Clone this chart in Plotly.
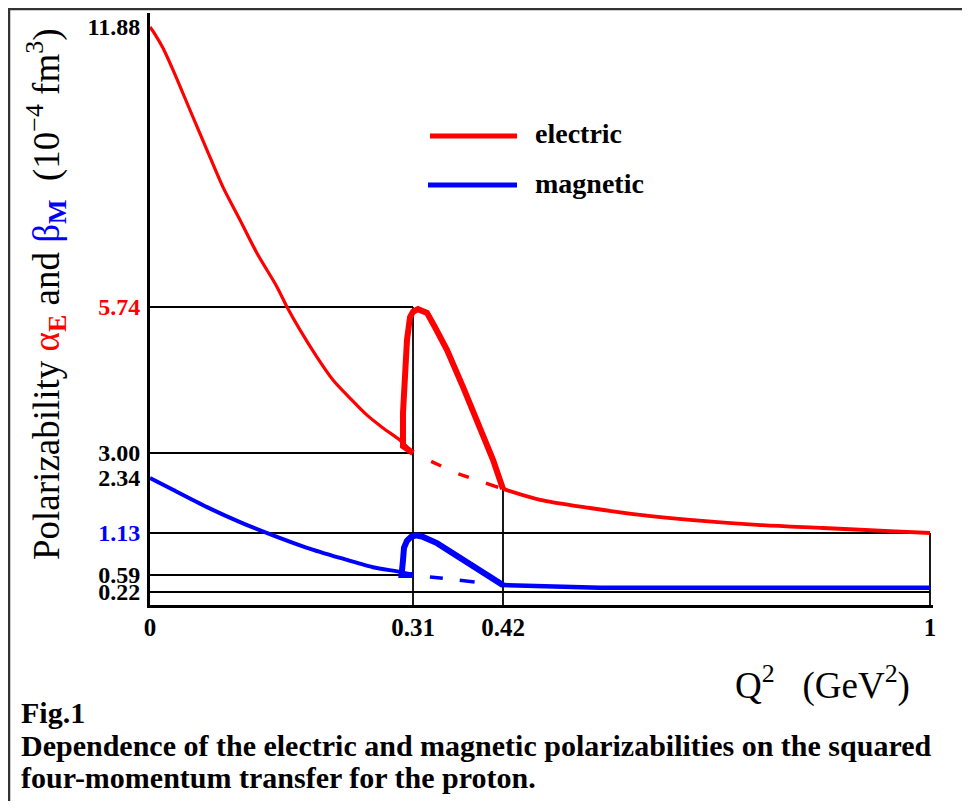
import numpy as np
import plotly.graph_objects as go

x_tick_values = [0, 0.31, 0.42, 1]
x_tick_labels = ["0", "0.31", "0.42", "1"]
y_tick_values = [11.88, 5.74, 3.00, 2.34, 1.13, 0.59, 0.22]
y_tick_labels = ["11.88", "5.74", "3.00", "2.34", "1.13", "0.59", "0.22"]
y_tick_colors = ["black", "red", "black", "black", "blue", "black", "black"]

# electric polarizability, smooth part (Q2 < 0.31)
e_base_q2 = [0, 0.0059, 0.0153, 0.0271, 0.0471, 0.0672, 0.0860, 0.1061, 0.1261,
             0.1497, 0.1615, 0.1768, 0.1968, 0.2157, 0.2357, 0.2558, 0.2746, 0.2947, 0.31]
e_base = [11.88, 11.72, 11.42, 10.94, 10.06, 9.18, 8.37, 7.65, 6.92,
          6.18, 5.74, 5.31, 4.80, 4.37, 4.03, 3.71, 3.47, 3.24, 3.00]
# electric, smooth continuation (dashed) 0.31 - 0.42
e_cont_q2 = [0.31, 0.365, 0.42]
e_cont = [3.00, 2.45, 2.10]
# electric, enhanced bump
e_peak_q2 = [0.31, 0.2982, 0.2982, 0.3006, 0.3029, 0.3065, 0.31, 0.3161, 0.3271,
             0.3369, 0.3516, 0.3711, 0.3919, 0.4078, 0.42]
e_peak = [3.00, 3.13, 3.75, 4.69, 5.12, 5.55, 5.65, 5.70, 5.63,
          5.36, 4.93, 4.24, 3.49, 2.82, 2.10]
# electric tail
e_tail_q2 = [0.42, 0.4703, 0.5382, 0.6061, 0.6740, 0.765, 0.8547, 0.9457, 1.0]
e_tail = [2.10, 1.86, 1.68, 1.53, 1.42, 1.31, 1.24, 1.17, 1.13]

# magnetic polarizability, smooth part
m_base_q2 = [0, 0.0271, 0.0672, 0.1061, 0.1450, 0.1851, 0.2240, 0.2628, 0.2947, 0.31]
m_base = [2.34, 2.08, 1.70, 1.37, 1.10, 0.94, 0.81, 0.69, 0.63, 0.59]
# magnetic continuation (dashed)
m_cont_q2 = [0.31, 0.3797, 0.42]
m_cont = [0.59, 0.46, 0.37]
# magnetic enhanced bump
m_peak_q2 = [0.31, 0.2965, 0.2982, 0.2994, 0.3029, 0.3076, 0.3137, 0.3222, 0.3393,
             0.3589, 0.3797, 0.4005, 0.42]
m_peak = [0.59, 0.59, 0.78, 0.94, 1.03, 1.08, 1.10, 1.08, 1.00,
          0.87, 0.72, 0.59, 0.37]
# magnetic tail
m_tail_q2 = [0.42, 0.4703, 0.5518, 1.0]
m_tail = [0.37, 0.35, 0.31, 0.31]

# reference (drop) lines: (value, from, to)
h_lines = [(5.74, 0, 0.31), (3.00, 0, 0.31), (1.13, 0, 1), (0.59, 0, 0.31), (0.22, 0, 1)]
v_lines = [(0.31, 0, 5.74), (0.42, 0, 2.10), (1, 0, 1.13)]

# ------------- the original drawing is not to scale: piecewise axis ------------
X_KNOTS = [0, 0.31, 0.42, 1]
X_DRAWN = [0, 263 / 780, 353 / 780, 1]
Y_KNOTS = [0, 0.22, 0.59, 1.13, 2.34, 3.00, 5.74, 11.88]
Y_DRAWN = list(np.array([0, 13, 30, 72, 127, 152, 298, 578]) / 48.65)


def wx(v):
    return np.interp(v, X_KNOTS, X_DRAWN)


def wy(v):
    return np.interp(v, Y_KNOTS, Y_DRAWN)


RED = "#ff0000"
BLUE = "#0000ff"
SERIF = "Liberation Serif, Times New Roman, serif"

# plot area geometry (page pixels; the page body adds an 8px offset)
PL, PR, PT, PB = 150, 933, 13, 605
PW, PH = PR - PL, PB - PT


def px(x):
    return (x - PL) / PW


def py(y):
    return (PB - y) / PH


fig = go.Figure()


def add_line(xs, ys, color, width, dash="solid", shape="linear"):
    fig.add_trace(go.Scatter(x=wx(xs), y=wy(ys), mode="lines",
                             line=dict(color=color, width=width, dash=dash, shape=shape,
                                       smoothing=0.8),
                             showlegend=False, hoverinfo="skip"))


add_line(e_base_q2, e_base, RED, 3.2, shape="spline")
add_line(e_cont_q2, e_cont, RED, 3.5, "0px,20px,11px,19px,11px,18px,13px,40px")
add_line(e_tail_q2, e_tail, RED, 3.8, shape="spline")
add_line(e_peak_q2, e_peak, RED, 6)
add_line(m_base_q2, m_base, BLUE, 4, shape="spline")
add_line(m_cont_q2, m_cont, BLUE, 3.5, "0px,17px,13px,17px,15px,60px")
add_line(m_tail_q2, m_tail, BLUE, 4.5)
add_line(m_peak_q2, m_peak, BLUE, 6)

shapes = []
for val, a, b in h_lines:
    shapes.append(dict(type="line", xref="x", yref="y", x0=wx(a), x1=wx(b),
                       y0=wy(val), y1=wy(val), layer="below",
                       line=dict(color="black", width=1.8)))
for val, a, b in v_lines:
    shapes.append(dict(type="line", xref="x", yref="y", x0=wx(val), x1=wx(val),
                       y0=wy(a), y1=wy(b), layer="below",
                       line=dict(color="black", width=1.8)))

# outer frame of the figure
shapes.append(dict(type="rect", xref="paper", yref="paper",
                   x0=px(9), x1=px(1000), y0=py(830), y1=py(9),
                   line=dict(color="#333333", width=2.5)))

# legend samples
shapes.append(dict(type="line", xref="paper", yref="paper",
                   x0=px(430), x1=px(517), y0=py(136), y1=py(136),
                   line=dict(color=RED, width=5)))
shapes.append(dict(type="line", xref="paper", yref="paper",
                   x0=px(428), x1=px(517), y0=py(185), y1=py(185),
                   line=dict(color=BLUE, width=5)))

annotations = [
    dict(text="<b>electric</b>", xref="paper", yref="paper",
         x=px(533), y=py(133), xanchor="left", yanchor="middle",
         showarrow=False, font=dict(family=SERIF, size=28, color="black")),
    dict(text="<b>magnetic</b>", xref="paper", yref="paper",
         x=px(533), y=py(183), xanchor="left", yanchor="middle",
         showarrow=False, font=dict(family=SERIF, size=28, color="black")),
    dict(text="Polarizability <span style='color:#ff0000'>α<sub><b>E</b></sub></span> and "
              "<span style='color:#0000ff'>β<sub><b>M</b></sub></span>  (10<sup>−4</sup> fm<sup>3</sup>)",
         xref="paper", yref="paper", x=px(46), y=py(294),
         xanchor="center", yanchor="middle", textangle=-90, showarrow=False,
         font=dict(family=SERIF, size=37, color="black")),
    dict(text="Q<sup>2</sup>   (GeV<sup>2</sup>)", xref="paper", yref="paper",
         x=px(822), y=py(683), xanchor="center", yanchor="middle",
         showarrow=False, font=dict(family=SERIF, size=37, color="black")),
    dict(text="<b>Fig.1</b>", xref="paper", yref="paper",
         x=px(19), y=py(712), xanchor="left", yanchor="middle",
         showarrow=False, font=dict(family=SERIF, size=30, color="black")),
    dict(text="<b>Dependence of the electric and magnetic polarizabilities on the squared</b>",
         xref="paper", yref="paper",
         x=px(19), y=py(745), xanchor="left", yanchor="middle",
         showarrow=False, font=dict(family=SERIF, size=30, color="black")),
    dict(text="<b>four-momentum transfer for the proton.</b>", xref="paper", yref="paper",
         x=px(19), y=py(777), xanchor="left", yanchor="middle",
         showarrow=False, font=dict(family=SERIF, size=30, color="black")),
]

y_ticktext = [f"<span style='color:{c}'><b>{t}</b></span>" for t, c in zip(y_tick_labels, y_tick_colors)]
x_ticktext = [f"<b>{t}</b>" for t in x_tick_labels]

fig.update_layout(
    width=954, height=793,
    margin=dict(l=PL - 8, r=954 - (PR - 8), t=PT - 8, b=793 - (PB - 8)),
    paper_bgcolor="white", plot_bgcolor="white",
    shapes=shapes, annotations=annotations,
    xaxis=dict(range=[0, PW / 780], tickvals=list(wx(x_tick_values)), ticktext=x_ticktext,
               showgrid=False, zeroline=False, showline=True, linecolor="black", linewidth=3,
               ticks="", ticklabelstandoff=-2,
               tickfont=dict(family=SERIF, size=25, color="black")),
    yaxis=dict(range=[0, PH / 48.65], tickvals=list(wy(y_tick_values)), ticktext=y_ticktext,
               showgrid=False, zeroline=False, showline=True, linecolor="black", linewidth=3,
               ticks="", ticklabelstandoff=2,
               tickfont=dict(family=SERIF, size=24, color="black")),
)

fig.write_html("out.html")
